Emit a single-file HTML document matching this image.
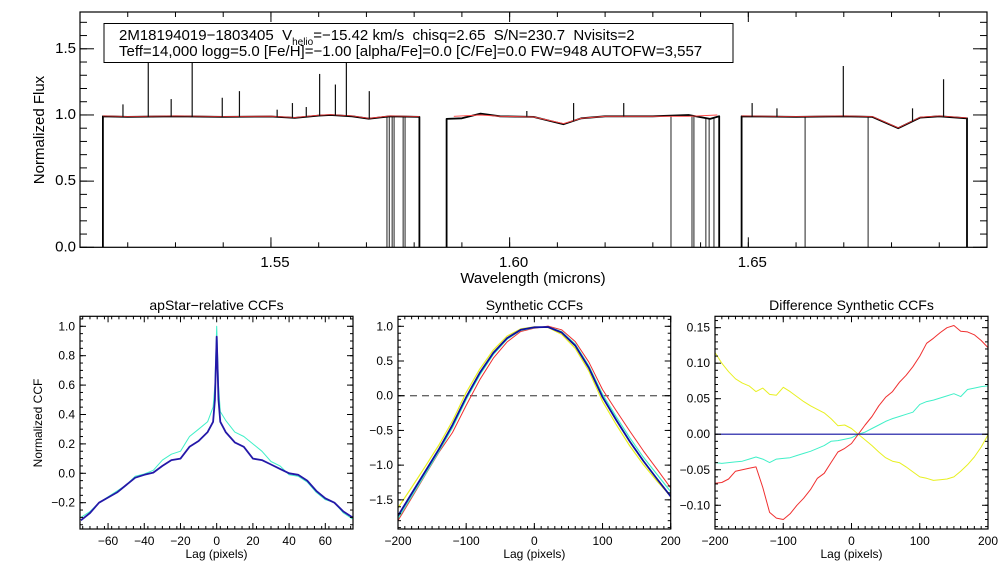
<!DOCTYPE html>
<html><head><meta charset="utf-8"><style>
body{margin:0;background:#fff}
svg{display:block;font-family:"Liberation Sans",Helvetica,sans-serif}
</style></head><body>
<svg id="c" width="1008" height="576" viewBox="0 0 1008 576" xmlns="http://www.w3.org/2000/svg"></svg>
<script>
// ---- Top spectrum data ----
const chip1Wl=[1.5148,1.52,1.53,1.54,1.55,1.555,1.56,1.5625,1.567,1.5705,1.575,1.5811];
const chip1Flux=[0.99,0.985,0.99,0.985,0.988,0.978,0.995,1.0,0.99,0.972,0.99,0.985];
const chip2Wl=[1.5868,1.59,1.5939,1.598,1.605,1.6113,1.615,1.62,1.63,1.6375,1.642,1.6439];
const chip2Flux=[0.97,0.975,1.01,0.99,0.985,0.93,0.975,0.99,0.99,1.0,0.97,0.99];
const chip3Wl=[1.6486,1.66,1.67,1.676,1.6814,1.686,1.69,1.6958];
const chip3Flux=[0.99,0.985,0.99,0.985,0.9,0.98,0.99,0.975];
const model2Wl=[1.5883,1.5939,1.598,1.605,1.6113,1.615,1.62,1.63,1.6375,1.6435];
const model2Flux=[0.99,1.0,0.99,0.985,0.935,0.975,0.99,0.99,0.99,1.0];
const spikeWl=[1.5190,1.5243,1.5291,1.5335,1.5398,1.5434,1.5513,1.5545,1.5574,1.5602,1.5635,1.5658,1.5706,1.6036,1.6134,1.6239,1.6508,1.6560,1.6699,1.6844,1.6909];
const spikeFlux=[1.08,1.42,1.12,1.42,1.13,1.18,1.04,1.09,1.06,1.31,1.23,1.45,1.18,1.03,1.09,1.09,1.09,1.05,1.37,1.05,1.27];
const dropWl=[1.5743,1.5748,1.5754,1.5758,1.5777,1.5781,1.6338,1.6382,1.6386,1.6411,1.6418,1.6428,1.6619,1.6751];
const yTicksTop=[0.0,0.5,1.0,1.5];
const xTicksTop=[1.55,1.60,1.65];

// ---- apStar CCF data ----
const ccfLag=[-75,-70,-65,-60,-55,-50,-45,-40,-35,-30,-25,-20,-15,-10,-5,-2,-1,0,1,2,5,10,15,20,25,30,35,40,45,50,55,60,65,70,75];
const ccfNavy=[-0.32,-0.27,-0.2,-0.165,-0.13,-0.08,-0.03,-0.01,0.005,0.05,0.09,0.1,0.18,0.22,0.28,0.35,0.5,0.93,0.5,0.35,0.28,0.21,0.18,0.1,0.09,0.06,0.03,0.0,-0.01,-0.05,-0.12,-0.17,-0.2,-0.26,-0.3];
const ccfCyan=[-0.3,-0.26,-0.2,-0.16,-0.12,-0.08,-0.02,-0.005,0.02,0.09,0.13,0.15,0.25,0.3,0.35,0.45,0.6,1.0,0.6,0.42,0.36,0.28,0.25,0.2,0.15,0.08,0.05,-0.01,-0.02,-0.06,-0.13,-0.18,-0.2,-0.27,-0.31];

// ---- Synthetic CCFs ----
const synLag=[-200,-180,-160,-140,-120,-100,-80,-60,-40,-20,0,20,40,60,80,100,120,140,160,180,200];
const synNavy=[-1.73,-1.41,-1.09,-0.77,-0.42,-0.02,0.33,0.62,0.83,0.95,0.985,0.99,0.91,0.72,0.4,-0.02,-0.35,-0.66,-0.94,-1.2,-1.45];
const synYellow=[-1.615,-1.322,-1.018,-0.71,-0.364,0.046,0.383,0.66,0.86,0.962,0.993,0.982,0.885,0.682,0.354,-0.08,-0.415,-0.723,-0.992,-1.232,-1.451];
const synCyan=[-1.77,-1.45,-1.128,-0.802,-0.46,-0.054,0.3,0.596,0.814,0.941,0.98,0.993,0.923,0.742,0.428,0.022,-0.302,-0.606,-0.887,-1.135,-1.382];
const synRed=[-1.799,-1.473,-1.14,-0.816,-0.53,-0.14,0.23,0.542,0.775,0.925,0.972,1.003,0.95,0.78,0.483,0.09,-0.215,-0.51,-0.795,-1.06,-1.328];

// ---- Difference CCFs ----
const difLag=[-200,-190,-180,-170,-160,-150,-140,-130,-120,-110,-100,-90,-80,-70,-60,-50,-40,-30,-20,-10,0,10,20,30,40,50,60,70,80,90,100,110,120,130,140,150,160,170,180,190,200];
const difRed=[-0.069,-0.068,-0.063,-0.052,-0.05,-0.048,-0.046,-0.075,-0.11,-0.118,-0.12,-0.112,-0.1,-0.09,-0.078,-0.062,-0.055,-0.04,-0.025,-0.02,-0.013,0,0.013,0.025,0.04,0.052,0.06,0.073,0.083,0.095,0.11,0.128,0.135,0.143,0.15,0.153,0.145,0.144,0.14,0.132,0.122];
const difYellow=[0.115,0.1,0.088,0.078,0.072,0.068,0.06,0.065,0.056,0.055,0.066,0.06,0.053,0.046,0.04,0.035,0.03,0.022,0.012,0.013,0.008,0,-0.008,-0.016,-0.025,-0.033,-0.038,-0.04,-0.046,-0.053,-0.06,-0.062,-0.065,-0.064,-0.063,-0.06,-0.052,-0.043,-0.032,-0.018,-0.001];
const difCyan=[-0.04,-0.041,-0.04,-0.039,-0.038,-0.035,-0.032,-0.035,-0.04,-0.035,-0.034,-0.033,-0.03,-0.027,-0.024,-0.02,-0.016,-0.01,-0.009,-0.007,-0.005,0,0.003,0.008,0.013,0.018,0.022,0.025,0.028,0.031,0.042,0.046,0.048,0.051,0.054,0.057,0.053,0.063,0.065,0.067,0.068];
const difNavy=[0,0,0,0,0,0,0,0,0,0,0,0,0,0,0,0,0,0,0,0,0,0,0,0,0,0,0,0,0,0,0,0,0,0,0,0,0,0,0,0,0];

const svg=document.getElementById('c');
const NS='http://www.w3.org/2000/svg';
function mk(tag,attrs,parent){const e=document.createElementNS(NS,tag);for(const k in attrs)e.setAttribute(k,attrs[k]);(parent||svg).appendChild(e);return e;}
function txt(s,x,y,size,anchor,parent,rot){const e=mk('text',{x:x,y:y,'font-size':size,'text-anchor':anchor||'middle',fill:'#000'},parent);if(rot)e.setAttribute('transform','rotate(-90 '+x+' '+y+')');e.textContent=s;return e;}
function lin(d0,d1,p0,p1){return v=>p0+(v-d0)/(d1-d0)*(p1-p0);}
function poly(xs,ys,sx,sy,color,w,parent){let d='';for(let i=0;i<xs.length;i++)d+=(i?'L':'M')+sx(xs[i]).toFixed(1)+' '+sy(ys[i]).toFixed(1);return mk('path',{d:d,fill:'none',stroke:color,'stroke-width':w,'stroke-linejoin':'round'},parent);}
function frame(x0,y0,x1,y1,g){mk('rect',{x:x0,y:y0,width:x1-x0,height:y1-y0,fill:'none',stroke:'#000','stroke-width':1.2},g);}
function xticks(vals,sx,y0,y1,len,g){vals.forEach(v=>{const x=sx(v);mk('line',{x1:x,y1:y1,x2:x,y2:y1-len,stroke:'#000','stroke-width':1},g);mk('line',{x1:x,y1:y0,x2:x,y2:y0+len,stroke:'#000','stroke-width':1},g);});}
function yticks(vals,sy,x0,x1,len,g){vals.forEach(v=>{const y=sy(v);mk('line',{x1:x0,y1:y,x2:x0+len,y2:y,stroke:'#000','stroke-width':1},g);mk('line',{x1:x1,y1:y,x2:x1-len,y2:y,stroke:'#000','stroke-width':1},g);});}
function range(a,b,s){const r=[];for(let v=a;v<=b+1e-9;v+=s)r.push(+v.toFixed(6));return r;}

// ===== Top panel =====
const gT=mk('g',{});


const tx=lin(1.51,1.70,80,987), ty=lin(0,1.778,247.3,12);
function contAt(wl,ws,fs){for(let i=0;i<ws.length-1;i++){if(wl>=ws[i]&&wl<=ws[i+1])return fs[i]+(fs[i+1]-fs[i])*(wl-ws[i])/(ws[i+1]-ws[i]);}return fs[fs.length-1];}
const chips=[[chip1Wl,chip1Flux],[chip2Wl,chip2Flux],[chip3Wl,chip3Flux]];
dropWl.forEach(w=>{let c=chips.find(ch=>w>=ch[0][0]&&w<=ch[0][ch[0].length-1]);const f=c?contAt(w,c[0],c[1]):1;const l=mk('line',{x1:tx(w),y1:ty(f),x2:tx(w),y2:ty(0),stroke:'#555','stroke-width':1.3},gT);});
chips.forEach((ch,i)=>{
  const ws=ch[0],fs=ch[1];
  const xs=[ws[0]].concat(ws).concat([ws[ws.length-1]]);
  const ys=[0].concat(fs).concat([0]);
  const p=poly(xs,ys,tx,ty,'#000',1.8,gT);
  
  
  if(i!==1){const m=poly(ws,fs.map(f=>f+0.003),tx,ty,'#e33',0.8,gT);}
});
const m2=poly(model2Wl,model2Flux,tx,ty,'#f44',0.9,gT);


spikeWl.forEach((w,i)=>{let c=chips.find(ch=>w>=ch[0][0]&&w<=ch[0][ch[0].length-1]);const f=c?contAt(w,c[0],c[1]):1;const l=mk('line',{x1:tx(w),y1:ty(f),x2:tx(w),y2:ty(spikeFlux[i]),stroke:'#111','stroke-width':1.2},gT);});
frame(80,12,987,247.3,gT);
xticks(range(1.51,1.70,0.01),tx,12,247.3,5,gT);
xticks(xTicksTop,tx,12,247.3,10,gT);
yticks(range(0,1.7,0.1),ty,80,987,7,gT);
yticks(yTicksTop,ty,80,987,14,gT);
xTicksTop.forEach(v=>txt(v.toFixed(2),tx(v)+4,267,15,'middle',gT));
yTicksTop.forEach(v=>txt(v.toFixed(1),76,ty(v)+4,15,'end',gT));
txt('Wavelength (microns)',533,283,15,'middle',gT);
txt('Normalized Flux',44,130,15,'middle',gT,true);
const box=mk('g',{},gT);


mk('rect',{x:104,y:23.5,width:629,height:39,fill:'#fff',stroke:'#000','stroke-width':1},box);
const t1=mk('text',{x:119,y:40,'font-size':15,fill:'#000'},box);
t1.innerHTML='2M18194019−1803405  V<tspan font-size="10" dy="5">helio</tspan><tspan dy="-5">=−15.42 km/s  chisq=2.65  S/N=230.7  Nvisits=2</tspan>';
t1.style.whiteSpace='pre';
txt('Teff=14,000 logg=5.0 [Fe/H]=−1.00 [alpha/Fe]=0.0 [C/Fe]=0.0 FW=948 AUTOFW=3,557',119,56,15,'start',box);

// ===== Bottom panels =====
function panel(name,x0,x1,xd,yd,title,xt,xminor,yt,yminor,yfmt,series){
  const g=mk('g',{});
  
  
  const y0=316.3,y1=529;
  const sx=lin(xd[0],xd[1],x0,x1), sy=lin(yd[0],yd[1],y1,y0);
  const cp='cp'+name;
  const c=mk('clipPath',{id:cp},g);mk('rect',{x:x0,y:y0,width:x1-x0,height:y1-y0},c);
  const gg=mk('g',{'clip-path':'url(#'+cp+')'},g);
  series.forEach(s=>{const p=poly(s[0],s[1],sx,sy,s[2],s[3],gg);if(s[5])p.setAttribute('stroke-dasharray',s[5]);});
  frame(x0,y0,x1,y1,g);
  xticks(xminor,sx,y0,y1,3,g);xticks(xt,sx,y0,y1,6,g);
  yticks(yminor,sy,x0,x1,3,g);yticks(yt,sy,x0,x1,6,g);
  xt.forEach(v=>txt(String(v).replace('-','−'),sx(v),545,12,'middle',g));
  yt.forEach(v=>txt(yfmt(v).replace('-','−'),x0-5,sy(v)+4,12,'end',g));
  txt('Lag (pixels)',(x0+x1)/2,558,12,'middle',g);
  txt(title,(x0+x1)/2,310,14,'middle',g);
  return g;
}
panel('apstar-ccf-panel',80,353,[-75.5,75.3],[-0.379,1.068],'apStar−relative CCFs',
  [-60,-40,-20,0,20,40,60],range(-74,74,4),[-0.2,0,0.2,0.4,0.6,0.8,1.0],range(-0.35,1.05,0.05),v=>v.toFixed(1),
  [[ccfLag,ccfCyan,'#40f0c8',1,'ccf-cyan'],[ccfLag,ccfNavy,'#2418a8',1.8,'ccf-navy']]);
txt('Normalized CCF',42,423,12,'middle',svg,true);
panel('synthetic-ccf-panel',398,670.7,[-200,200],[-1.92,1.144],'Synthetic CCFs',
  [-200,-100,0,100,200],range(-200,200,10),[-1.5,-1.0,-0.5,0,0.5,1.0],range(-1.9,1.1,0.1),v=>v.toFixed(1),
  [[[-200,200],[0,0],'#666',1.4,'zero-line','7 5'],[synLag,synRed,'#f03030',1,'syn-red'],[synLag,synYellow,'#e8f020',1.2,'syn-yellow'],[synLag,synCyan,'#40f0c8',1.2,'syn-cyan'],[synLag,synNavy,'#1010a0',1.8,'syn-navy']]);
panel('difference-ccf-panel',715,988,[-200,200],[-0.1334,0.166],'Difference Synthetic CCFs',
  [-200,-100,0,100,200],range(-200,200,10),[-0.10,-0.05,0,0.05,0.10,0.15],range(-0.13,0.16,0.01),v=>v.toFixed(2),
  [[difLag,difYellow,'#e8f020',1,'diff-yellow'],[difLag,difCyan,'#40f0c8',1,'diff-cyan'],[difLag,difRed,'#f03030',1,'diff-red'],[difLag,difNavy,'#1010a0',1.2,'diff-navy']]);
</script>
</body></html>
